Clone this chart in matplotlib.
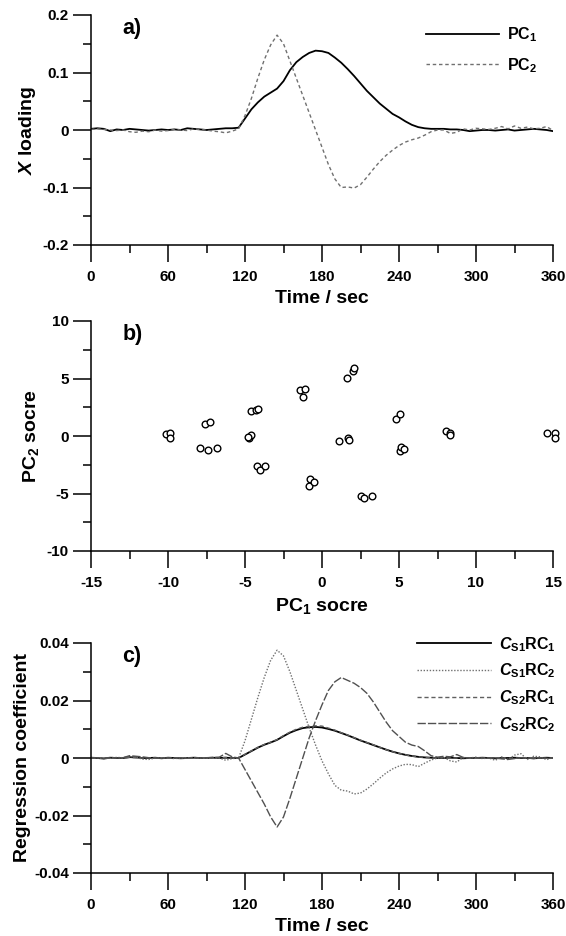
import matplotlib
matplotlib.use("Agg")
import matplotlib.pyplot as plt
import numpy as np
from matplotlib.ticker import MultipleLocator

# ---- data (time grid every 5 s) -----------------------------------------------------
time = np.arange(0, 361, 5)

pc1_loading = [0.002, 0.003, 0.002, -0.002, 0.001, 0.000, 0.002, 0.001, 0.000, -0.001, 0.000, 0.001,
               0.000, 0.001, 0.000, 0.003, 0.002, 0.001, 0.000, 0.001, 0.002, 0.003, 0.003,
               0.004, 0.020, 0.036, 0.048, 0.058, 0.065, 0.072, 0.085, 0.104, 0.118, 0.127, 0.134,
               0.138, 0.137, 0.134, 0.126, 0.117, 0.106, 0.094, 0.081, 0.068, 0.057, 0.046, 0.037,
               0.028, 0.022, 0.015, 0.009, 0.005, 0.003, 0.002, 0.002, 0.002, 0.001, 0.001, 0.000,
               -0.002, -0.001, 0.000, 0.000, -0.001, 0.000, 0.001, -0.001, 0.000, 0.001, 0.002,
               0.001, 0.000, -0.002]
pc2_loading = [0.001, 0.002, 0.001, 0.000, -0.001, 0.000, -0.003, -0.004, -0.002, -0.003, 0.000, -0.002,
               -0.001, 0.001, 0.000, -0.001, 0.002, 0.001, 0.000, -0.002, -0.003, -0.005, -0.002,
               0.002, 0.025, 0.055, 0.090, 0.122, 0.148, 0.165, 0.150, 0.120, 0.090, 0.060, 0.030,
               0.000, -0.030, -0.060, -0.085, -0.100, -0.099, -0.101, -0.095, -0.082, -0.068, -0.055,
               -0.044, -0.035, -0.027, -0.021, -0.017, -0.014, -0.009, -0.003, 0.000, 0.000, -0.006,
               -0.004, 0.002, 0.000, 0.003, 0.002, 0.001, 0.003, 0.006, 0.002, 0.007, 0.003, 0.005,
               0.002, 0.003, 0.006, -0.001]

# PC scores
pc1_score = [-10.1, -9.84, -9.9, -7.6, -7.3, -7.94, -7.43, -6.8, -4.6, -4.26, -4.15, -4.73, -4.6, -4.78,
             -4.2, -4.03, -3.72, -1.45, -1.08, -1.26, -0.75, -0.87, -0.49, 1.08, 1.66, 1.73,
             1.64, 2.01, 2.1, 2.53, 2.72, 3.23, 4.8, 5.04, 5.04, 5.1, 5.34, 8.08, 8.34, 8.34,
             14.64, 15.1, 15.13]
pc2_score = [0.14, 0.29, -0.14, 1.07, 1.21, -1.07, -1.24, -1.0, 2.2, 2.25, 2.33, -0.2, 0.09, -0.09,
             -2.6, -2.97, -2.6, 4.03, 4.12, 3.4, -3.75, -4.32, -4.03, -0.43, -0.2, -0.35,
             5.04, 5.62, 5.9, -5.19, -5.39, -5.19, 1.5, 1.87, -1.3, -0.92, -1.1, 0.43, 0.29, 0.06,
             0.29, 0.23, -0.2]

# regression coefficients
cs1_rc1 = [0.0001, 0.0000, -0.0002, 0.0001, 0.0000, 0.0000, 0.0003, 0.0002, 0.0000, 0.0000, 0.0001, -0.0001,
           0.0001, 0.0000, -0.0001, 0.0000, 0.0001, 0.0000, 0.0000, 0.0001, 0.0000, 0.0001, 0.0000,
           0.0000, 0.0012, 0.0024, 0.0036, 0.0046, 0.0054, 0.0063, 0.0076, 0.0088, 0.0097, 0.0104,
           0.0107, 0.0108, 0.0106, 0.0101, 0.0095, 0.0087, 0.0079, 0.0070, 0.0061, 0.0053, 0.0045,
           0.0037, 0.0029, 0.0022, 0.0016, 0.0011, 0.0007, 0.0004, 0.0002, 0.0001, 0.0000,
           0.0000, 0.0001, 0.0000, -0.0001, 0.0000, 0.0000, 0.0001, 0.0000, -0.0001, 0.0000, 0.0000,
           0.0001, 0.0000, 0.0000, -0.0001, 0.0000, 0.0001, 0.0000]
cs1_rc2 = [0.0000, 0.0001, -0.0002, 0.0000, 0.0002, 0.0001, 0.0005, 0.0003, -0.0004, -0.0005, 0.0000, 0.0001,
           0.0000, -0.0002, 0.0000, 0.0001, 0.0000, 0.0000, -0.0001, 0.0000, 0.0000, -0.0008, -0.0002,
           0.0000, 0.0060, 0.0135, 0.0210, 0.0280, 0.0340, 0.0375, 0.0355, 0.0300, 0.0235, 0.0170,
           0.0105, 0.0045, -0.0010, -0.0055, -0.0095, -0.0112, -0.0115, -0.0125, -0.0122, -0.0108,
           -0.0090, -0.0070, -0.0052, -0.0038, -0.0028, -0.0022, -0.0023, -0.0030, -0.0018, -0.0007,
           0.0000, 0.0002, -0.0010, -0.0014, 0.0002, 0.0000, 0.0003, -0.0002, 0.0000, -0.0008,
           0.0004, -0.0006, 0.0010, 0.0015, -0.0005, 0.0006, 0.0004, -0.0006, 0.0002]
cs2_rc1 = [0.0000, 0.0001, 0.0000, -0.0001, 0.0001, 0.0000, 0.0002, 0.0001, 0.0000, 0.0001, 0.0000, 0.0000,
           -0.0001, 0.0000, 0.0001, 0.0000, 0.0000, 0.0001, 0.0000, 0.0000, 0.0001, 0.0002, 0.0000,
           0.0000, 0.0013, 0.0025, 0.0037, 0.0047, 0.0055, 0.0064, 0.0078, 0.0090, 0.0100, 0.0107,
           0.0110, 0.0112, 0.0111, 0.0104, 0.0097, 0.0088, 0.0080, 0.0071, 0.0062, 0.0054, 0.0046,
           0.0037, 0.0029, 0.0022, 0.0016, 0.0011, 0.0007, 0.0004, 0.0002, 0.0001, 0.0000,
           0.0001, 0.0000, 0.0000, 0.0001, 0.0000, -0.0001, 0.0000, 0.0000, 0.0001, 0.0000, -0.0001,
           0.0000, 0.0000, 0.0001, 0.0000, 0.0000, -0.0001, 0.0000]
cs2_rc2 = [0.0000, 0.0001, -0.0001, 0.0002, 0.0000, 0.0001, 0.0008, 0.0006, 0.0004, 0.0001, 0.0000, -0.0001,
           0.0001, 0.0000, 0.0000, -0.0001, 0.0002, 0.0000, 0.0001, 0.0002, 0.0003, 0.0016, 0.0004,
           0.0000, -0.0040, -0.0080, -0.0120, -0.0160, -0.0205, -0.0240, -0.0205, -0.0140, -0.0070,
           0.0000, 0.0070, 0.0130, 0.0185, 0.0235, 0.0265, 0.0280, 0.0270, 0.0260, 0.0245, 0.0225,
           0.0195, 0.0160, 0.0125, 0.0095, 0.0075, 0.0055, 0.0045, 0.0040, 0.0025, 0.0008, 0.0003,
           0.0006, 0.0004, 0.0012, 0.0002, 0.0000, 0.0001, 0.0000, -0.0001, 0.0000, -0.0003,
           -0.0005, -0.0002, 0.0001, 0.0000, -0.0002, 0.0001, -0.0001, 0.0000]

# ---- style ------------------------------------------------------------------------
plt.rcParams['font.family'] = ['Liberation Sans', 'DejaVu Sans']
plt.rcParams['font.weight'] = 'bold'
plt.rcParams['axes.unicode_minus'] = False
plt.rcParams['mathtext.fontset'] = 'custom'
plt.rcParams['mathtext.rm'] = 'Liberation Sans:bold'
plt.rcParams['mathtext.bf'] = 'Liberation Sans:bold'
plt.rcParams['mathtext.it'] = 'Liberation Sans:italic:bold'

fig = plt.figure(figsize=(5.66, 9.36), dpi=100)
L, W, H = 91 / 566, 462 / 566, 230 / 936
ax_a = fig.add_axes([L, 691 / 936, W, H])
ax_b = fig.add_axes([L, 385 / 936, W, H])
ax_c = fig.add_axes([L, 63 / 936, W, H])


def style(ax):
    for s in ['top', 'right']:
        ax.spines[s].set_visible(False)
    for s in ['left', 'bottom']:
        ax.spines[s].set_linewidth(1.1)
    ax.tick_params(which='major', direction='out', width=1.1, labelsize=11)
    ax.tick_params(which='minor', direction='out', length=6, width=1.1)
    ax.tick_params(axis='x', which='major', length=12, pad=6)
    ax.tick_params(axis='y', which='major', length=13, pad=3)


# a) loadings
ax_a.plot(time, pc1_loading, color='black', lw=1.3, label='PC$_\\mathrm{1}$')
ax_a.plot(time, pc2_loading, color='#707070', lw=1.0, ls=(0, (2.5, 2)), label='PC$_\\mathrm{2}$')
ax_a.set_xlim(0, 360)
ax_a.set_ylim(-0.2, 0.2)
ax_a.xaxis.set_major_locator(MultipleLocator(60))
ax_a.xaxis.set_minor_locator(MultipleLocator(30))
ax_a.set_yticks([-0.2, -0.1, 0, 0.1, 0.2])
ax_a.set_yticklabels(['-0.2', '-0.1', '0', '0.1', '0.2'])
ax_a.yaxis.set_minor_locator(MultipleLocator(0.05))
ax_a.set_xlabel('Time / sec', fontsize=14, fontweight='bold', labelpad=4)
ax_a.set_ylabel('$X$ loading', fontsize=14, fontweight='bold', labelpad=3)
style(ax_a)
ax_a.text(0.068, 0.985, 'a)', transform=ax_a.transAxes, fontsize=15.5, fontweight='bold', va='top')
ax_a.legend(loc='upper left', bbox_to_anchor=(0.725, 0.955), frameon=False, fontsize=11.5,
            handlelength=4.6, handletextpad=0.5, labelspacing=0.75, borderpad=0, borderaxespad=0)

# b) scores
ax_b.plot(pc1_score, pc2_score, 'o', ms=4.8, mfc='white', mec='black', mew=1.0, clip_on=False)
ax_b.set_xlim(-15, 15)
ax_b.set_ylim(-10, 10)
ax_b.xaxis.set_major_locator(MultipleLocator(5))
ax_b.xaxis.set_minor_locator(MultipleLocator(2.5))
ax_b.yaxis.set_major_locator(MultipleLocator(5))
ax_b.yaxis.set_minor_locator(MultipleLocator(2.5))
ax_b.set_xlabel('PC$_\\mathrm{1}$ socre', fontsize=14, fontweight='bold', labelpad=4)
ax_b.set_ylabel('PC$_\\mathrm{2}$ socre', fontsize=14, fontweight='bold', labelpad=4)
style(ax_b)
ax_b.text(0.068, 0.985, 'b)', transform=ax_b.transAxes, fontsize=15.5, fontweight='bold', va='top')

# c) regression coefficients
ax_c.plot(time, cs1_rc1, color='black', lw=1.3, label='$C_{\\mathrm{S1}}$RC$_\\mathrm{1}$')
ax_c.plot(time, cs1_rc2, color='#707070', lw=1.0, ls=(0, (1, 1.2)), label='$C_{\\mathrm{S1}}$RC$_\\mathrm{2}$')
ax_c.plot(time, cs2_rc1, color='#606060', lw=1.0, ls=(0, (3, 2)), label='$C_{\\mathrm{S2}}$RC$_\\mathrm{1}$')
ax_c.plot(time, cs2_rc2, color='#505050', lw=1.0, ls=(0, (6, 1.5)), label='$C_{\\mathrm{S2}}$RC$_\\mathrm{2}$')
ax_c.set_xlim(0, 360)
ax_c.set_ylim(-0.04, 0.04)
ax_c.xaxis.set_major_locator(MultipleLocator(60))
ax_c.xaxis.set_minor_locator(MultipleLocator(30))
ax_c.set_yticks([-0.04, -0.02, 0, 0.02, 0.04])
ax_c.set_yticklabels(['-0.04', '-0.02', '0', '0.02', '0.04'])
ax_c.yaxis.set_minor_locator(MultipleLocator(0.01))
ax_c.set_xlabel('Time / sec', fontsize=14, fontweight='bold', labelpad=4)
ax_c.set_ylabel('Regression coefficient', fontsize=14, fontweight='bold', labelpad=2)
style(ax_c)
ax_c.text(0.068, 0.985, 'c)', transform=ax_c.transAxes, fontsize=15.5, fontweight='bold', va='top')
ax_c.legend(loc='upper left', bbox_to_anchor=(0.706, 1.035), frameon=False, fontsize=11.5,
            handlelength=4.6, handletextpad=0.5, labelspacing=0.5, borderpad=0, borderaxespad=0)

fig.savefig('out.png', dpi=100)
